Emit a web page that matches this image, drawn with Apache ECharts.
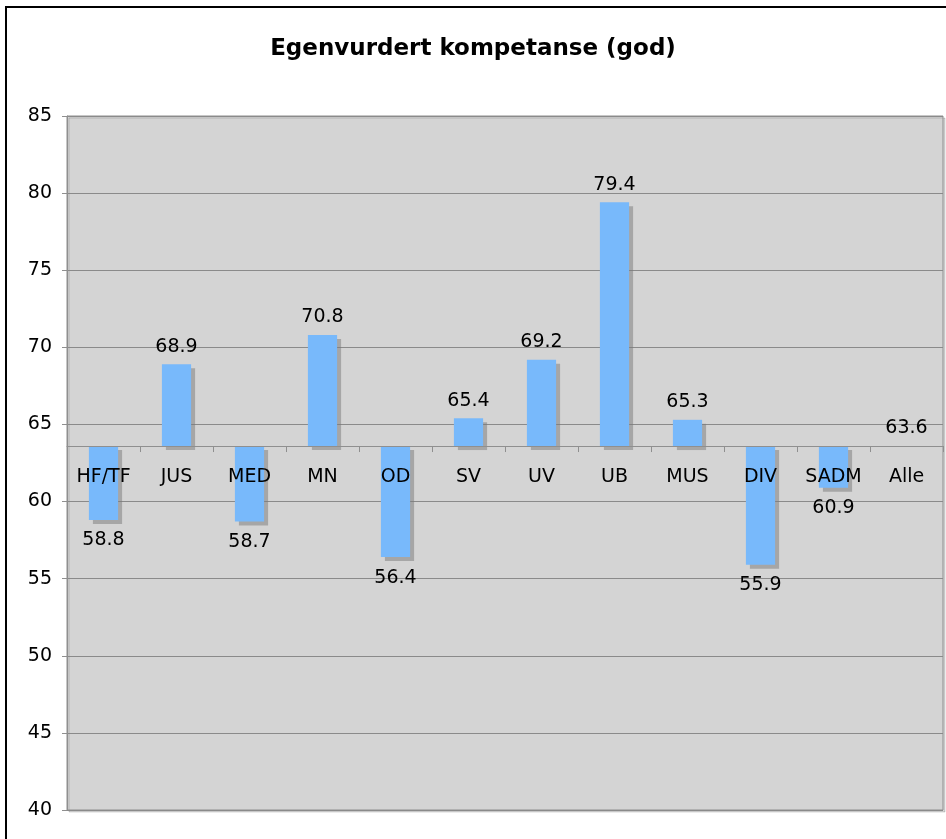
<!DOCTYPE html>
<html>
<head>
<meta charset="utf-8">
<script src="https://cdn.jsdelivr.net/npm/echarts@6/dist/echarts.min.js"></script>
<style>
html,body{margin:0;padding:0;background:#fff;}
#c{width:946px;height:839px;}
</style>
</head>
<body>
<div id="c"></div>
<script>
const titleText = 'Egenvurdert kompetanse (god)';
const categories = ['HF/TF','JUS','MED','MN','OD','SV','UV','UB','MUS','DIV','SADM','Alle'];
const values = [58.8, 68.9, 58.7, 70.8, 56.4, 65.4, 69.2, 79.4, 65.3, 55.9, 60.9, 63.6];
const baseline = 63.6;
const yMin = 40, yMax = 85, yStep = 5;

const gridTop = 116, gridBottomPx = 810, gridLeft = 67, gridRight = 943;
const gridH = gridBottomPx - gridTop;
const axisOffset = -gridH * (baseline - yMin) / (yMax - yMin);

const baseData = values.map(v => Math.min(v, baseline));
const diffData = values.map((v, i) => ({
  value: Math.abs(v - baseline),
  label: v < baseline ? { position: 'bottom', distance: 11 } : { position: 'top', distance: 8 }
}));

const chart = echarts.init(document.getElementById('c'), null, {renderer: 'canvas'});
chart.setOption({
  animation: false,
  backgroundColor: '#ffffff',
  textStyle: { fontFamily: 'DejaVu Sans' },
  title: {
    text: titleText,
    left: 'center',
    top: 33,
    textStyle: { fontFamily: 'DejaVu Sans', fontWeight: 'bold', fontSize: 23, color: '#000' }
  },
  graphic: [{
    type: 'rect',
    shape: { x: 6, y: 7, width: 1000, height: 900 },
    style: { fill: 'none', stroke: '#000', lineWidth: 2 },
    silent: true, z: 100
  }],
  grid: {
    left: gridLeft, top: gridTop, width: gridRight - gridLeft, height: gridH,
    show: true, backgroundColor: '#d4d4d4', borderColor: '#8f8f8f', borderWidth: 1,
    shadowColor: 'rgba(0,0,0,0.15)', shadowOffsetX: 2, shadowOffsetY: 2, shadowBlur: 0
  },
  xAxis: {
    type: 'category',
    data: categories,
    position: 'bottom',
    offset: axisOffset,
    z: 10,
    axisLine: { show: true, lineStyle: { color: '#8f8f8f', width: 1 } },
    axisTick: { show: true, interval: 0, inside: false, length: 6, alignWithLabel: false, lineStyle: { color: '#8f8f8f' } },
    axisLabel: { interval: 0, hideOverlap: false, color: '#000', fontSize: 19, margin: 22, fontFamily: 'DejaVu Sans' },
    splitLine: { show: false }
  },
  yAxis: {
    type: 'value',
    min: yMin, max: yMax, interval: yStep,
    axisLine: { show: true, lineStyle: { color: '#8f8f8f' } },
    axisTick: { show: true, inside: false, length: 5, lineStyle: { color: '#8f8f8f' } },
    axisLabel: { color: '#000', fontSize: 19, margin: 15, fontFamily: 'DejaVu Sans' },
    splitLine: { show: true, lineStyle: { color: '#8a8a8a', width: 1 } }
  },
  series: [
    {
      type: 'bar',
      stack: 'a',
      data: baseData,
      barWidth: '40%',
      itemStyle: { color: 'rgba(0,0,0,0)' },
      silent: true
    },
    {
      type: 'bar',
      stack: 'a',
      data: diffData,
      barWidth: '40%',
      z: 3,
      itemStyle: {
        color: '#78b9fb',
        shadowColor: 'rgba(120,120,120,0.5)',
        shadowOffsetX: 4,
        shadowOffsetY: 4,
        shadowBlur: 0
      },
      label: {
        show: true,
        fontSize: 19,
        color: '#000',
        fontFamily: 'DejaVu Sans',
        formatter: p => values[p.dataIndex].toFixed(1)
      }
    }
  ]
});
</script>
</body>
</html>
